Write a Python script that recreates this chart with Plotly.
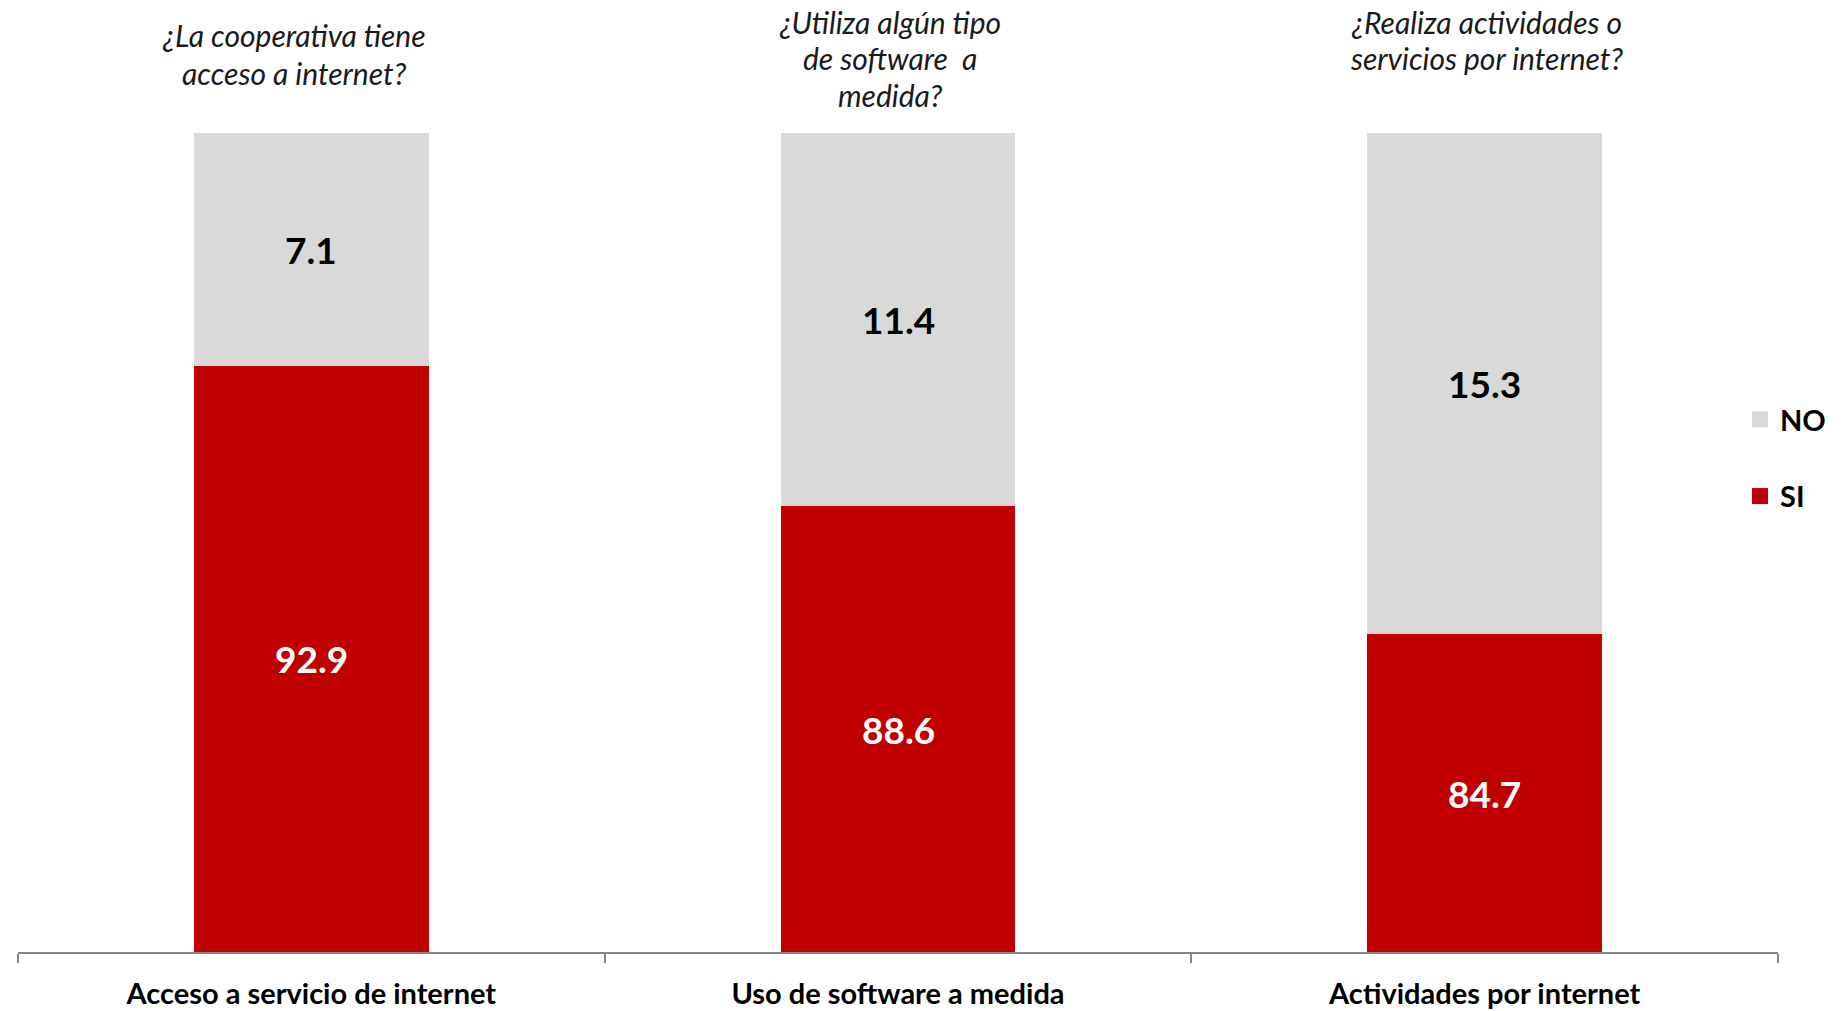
import plotly.graph_objects as go

# ---- data ----
categories = ["Acceso a servicio de internet", "Uso de software a medida", "Actividades por internet"]
si_values = [92.9, 88.6, 84.7]
no_values = [7.1, 11.4, 15.3]
questions = [
    ["¿La cooperativa tiene", "acceso a internet?"],
    ["¿Utiliza algún tipo", "de software  a", "medida?"],
    ["¿Realiza actividades o", "servicios por internet?"],
]
series_names = ["SI", "NO"]
y_min, y_max = 75, 100

RED = "#C00000"
GREY = "#D9D9D9"
FONT = "Lato"

OFF = 8  # browser body margin
W, H = 1847, 1011
ML, MR, MT, MB = 18 - OFF, 69 + OFF, 133 - OFF, 59 + OFF
PH = H - MT - MB
PW = W - ML - MR

fig = go.Figure()
fig.add_trace(go.Bar(name=series_names[0], x=categories, y=si_values,
                     marker=dict(color=RED, line=dict(width=0)), showlegend=False, hoverinfo="skip"))
fig.add_trace(go.Bar(name=series_names[1], x=categories, y=no_values,
                     marker=dict(color=GREY, line=dict(width=0)), showlegend=False, hoverinfo="skip"))
# legend entries (square swatches)
fig.add_trace(go.Scatter(x=[None], y=[None], mode="markers", name="<b>%s</b>" % series_names[1],
                         marker=dict(symbol="square", size=18, color=GREY), legendgroup="no"))
fig.add_trace(go.Scatter(x=[None], y=[None], mode="markers", name="<b>%s</b>" % series_names[0],
                         marker=dict(symbol="square", size=18, color=RED), legendgroup="si"))

annotations = []
for i, c in enumerate(categories):
    s = si_values[i]
    n = no_values[i]
    annotations.append(dict(x=c, y=(y_min + s) / 2, xref="x", yref="y", text="<b>%.1f</b>" % s,
                            showarrow=False, font=dict(family=FONT, size=37, color="white")))
    annotations.append(dict(x=c, y=s + n / 2, xref="x", yref="y", text="<b>%.1f</b>" % n,
                            showarrow=False, font=dict(family=FONT, size=37, color="black")))

q_centers_px = [294, 890, 1486]
q_lines_px = [[35, 73], [22, 58, 95], [22, 58]]
for qi, lines in enumerate(questions):
    for li, line in enumerate(lines):
        ypx = q_lines_px[qi][li] - OFF
        xpx = q_centers_px[qi] - OFF
        annotations.append(dict(
            x=(xpx - ML) / PW, y=(H - MB - ypx) / PH, xref="paper", yref="paper",
            text="<i>%s</i>" % line, showarrow=False, xanchor="center", yanchor="middle",
            font=dict(family=FONT, size=30, color="#1a1a1a")))

fig.update_layout(
    width=W, height=H,
    margin=dict(l=ML, r=MR, t=MT, b=MB),
    barmode="stack", bargap=0.6,
    plot_bgcolor="white", paper_bgcolor="white",
    showlegend=True,
    legend=dict(x=(1732 - ML) / PW, xanchor="left", y=(H - MB - 386) / PH, yanchor="top",
                traceorder="grouped", tracegroupgap=36,
                font=dict(family=FONT, size=29, color="black"), bgcolor="rgba(0,0,0,0)"),
    annotations=annotations,
    xaxis=dict(range=[-0.5, 2.5], showline=True, linecolor="#868686", linewidth=2,
               ticks="outside", tickson="boundaries", ticklen=9, tickcolor="#868686", tickwidth=2,
               tickfont=dict(family=FONT, size=29, color="black"), ticklabelstandoff=15,
               tickprefix="<b>", ticksuffix="</b>",
               showgrid=False, zeroline=False, fixedrange=True),
    yaxis=dict(range=[y_min, y_max], visible=False, showgrid=False, zeroline=False, fixedrange=True),
)

fig.write_html("out.html", config={"displayModeBar": False})
